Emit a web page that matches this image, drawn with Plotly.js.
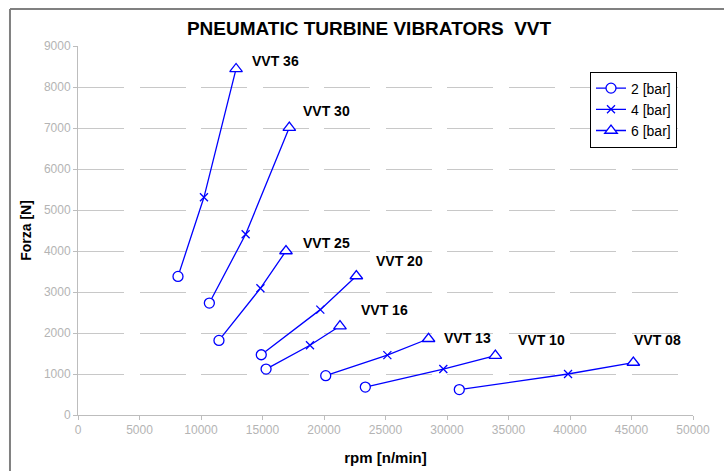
<!DOCTYPE html>
<html>
<head>
<meta charset="utf-8">
<script src="https://cdn.plot.ly/plotly-3.0.1.min.js"></script>
<style>html,body{margin:0;padding:0;background:#fff;}#chart{width:724px;height:471px;}</style>
</head>
<body>
<div id="chart"></div>
<script>
// Models (one line each), ordered 2 bar -> 4 bar -> 6 bar
const models = ["VVT 36", "VVT 30", "VVT 25", "VVT 20", "VVT 16", "VVT 13", "VVT 10", "VVT 08"];
const rpm2   = [8130, 10680, 11460, 14900, 15290, 20140, 23360, 31000];
const force2 = [3380, 2730, 1820, 1470, 1120, 960, 680, 620];
const rpm4   = [10240, 13630, 14830, 19700, 18860, 25150, 29700, 39840];
const force4 = [5310, 4410, 3090, 2570, 1700, 1460, 1120, 1000];
const rpm6   = [12850, 17180, 16910, 22630, 21300, 28500, 33930, 45150];
const force6 = [8440, 7010, 4000, 3390, 2170, 1860, 1450, 1280];
const pressures = ["2 [bar]", "4 [bar]", "6 [bar]"];
const xTicks = [0, 5000, 10000, 15000, 20000, 25000, 30000, 35000, 40000, 45000, 50000];
const yTicks = [0, 1000, 2000, 3000, 4000, 5000, 6000, 7000, 8000, 9000];

const BLUE = "#0000ff";
const symbols = ["circle", "x-thin", "triangle-up"];
const sizes = [10, 8, 11];
const rpmSets = [rpm2, rpm4, rpm6];
const forceSets = [force2, force4, force6];
const FONT = "Liberation Sans, Arial, sans-serif";

const traces = [];
// Connecting lines per model
models.forEach((m, i) => {
  traces.push({
    x: [rpm2[i], rpm4[i], rpm6[i]],
    y: [force2[i], force4[i], force6[i]],
    mode: "lines", type: "scatter", showlegend: false, hoverinfo: "skip",
    line: {color: BLUE, width: 1.3}
  });
});
// Markers per pressure (nulls between points so no line is drawn, legend still shows line+marker)
pressures.forEach((p, k) => {
  const xs = [], ys = [];
  rpmSets[k].forEach((v, i) => { xs.push(v, null); ys.push(forceSets[k][i], null); });
  traces.push({
    x: xs, y: ys, name: p, type: "scatter", mode: "lines+markers",
    connectgaps: false, legendgroup: "g" + k,
    line: {color: BLUE, width: 1.3},
    marker: {symbol: symbols[k], size: sizes[k], color: "#ffffff", line: {color: BLUE, width: 1.3}}
  });
});

const labelFont = {family: FONT, size: 14, color: "#000", weight: "bold"};
const labelPos = [
  [14250, 8640], [18370, 7420], [18370, 4200], [24300, 3760],
  [23090, 2560], [29840, 1880], [35850, 1830], [45285, 1830]
];
const annotations = models.map((m, i) => ({
  x: labelPos[i][0], y: labelPos[i][1], xref: "x", yref: "y", text: m,
  showarrow: false, xanchor: "left", yanchor: "middle", font: labelFont,
  xshift: -3
}));

const axisCommon = {
  showline: true, linecolor: "#bdbdbd", linewidth: 1,
  ticks: "outside", ticklen: 4, tickcolor: "#bdbdbd",
  tickfont: {family: FONT, size: 12, color: "#b4b4b4"},
  zeroline: false, automargin: false
};

const layout = {
  width: 724, height: 471,
  margin: {l: 78, r: 31, t: 46, b: 56},
  paper_bgcolor: "#fff", plot_bgcolor: "#fff",
  title: {
    text: "PNEUMATIC TURBINE VIBRATORS  VVT",
    font: {family: FONT, size: 19, color: "#000", weight: "bold"},
    xref: "container", x: 369 / 724, xanchor: "center",
    yref: "container", y: 1 - 28.5 / 471, yanchor: "middle"
  },
  xaxis: Object.assign({}, axisCommon, {
    range: [0, 50000], tickvals: xTicks, ticktext: xTicks.map(String),
    showgrid: false,
    title: {text: "rpm [n/min]", font: {family: FONT, size: 15, color: "#000", weight: "bold"}, standoff: 16}
  }),
  yaxis: Object.assign({}, axisCommon, {
    range: [0, 9000], tickvals: yTicks, ticktext: yTicks.map(String),
    showgrid: true, gridcolor: "#c8c8c8", gridwidth: 1, griddash: "46px,15.5px",
    title: {text: "Forza [N]", font: {family: FONT, size: 14, color: "#000", weight: "bold"}, standoff: 8}
  }),
  legend: {
    x: (590 - 78) / 615, y: (414.7 - 71.5) / 368.7, xanchor: "left", yanchor: "top",
    bordercolor: "#000", borderwidth: 1, bgcolor: "#fff",
    font: {family: FONT, size: 14, color: "#000"},
    traceorder: "grouped", tracegroupgap: 0
  },
  annotations: annotations,
  shapes: [
    {type: "line", xref: "paper", yref: "paper", x0: -0.1106, x1: -0.1106, y0: -0.3, y1: 1.1, line: {color: "#808080", width: 2}},
    {type: "line", xref: "paper", yref: "paper", x0: -0.1106, x1: 1.2, y0: 1.1, y1: 1.1, line: {color: "#808080", width: 2}}
  ],
  showlegend: true
};

Plotly.newPlot("chart", traces, layout, {displayModeBar: false, staticPlot: true});
</script>
</body>
</html>
